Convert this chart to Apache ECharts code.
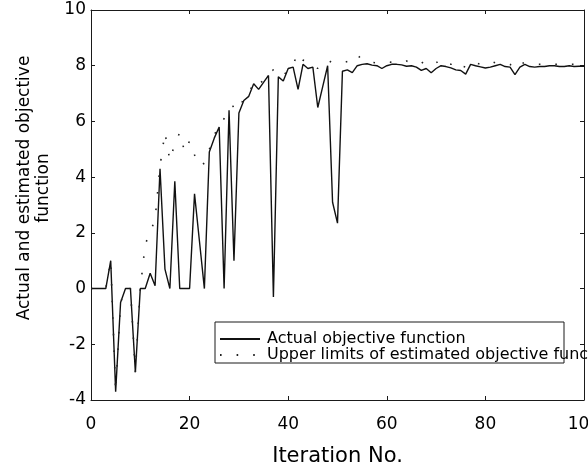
<!DOCTYPE html>
<html>
<head>
<meta charset="utf-8">
<script src="https://cdn.jsdelivr.net/npm/echarts@6/dist/echarts.min.js"></script>
<style>
  html, body { margin: 0; padding: 0; background: #fff; }
  #chart { width: 588px; height: 472px; }
</style>
</head>
<body>
<div id="chart"></div>
<script>
// iteration numbers 0..100 (x axis positions)
const iterations = Array.from({ length: 101 }, (_, i) => i)

// actual objective function
const actualValues = [
  0, 0, 0, 0, 1.0, -3.7, -0.5, 0, 0, -3.0,
  0, 0, 0.55, 0.1, 4.3, 0.7, 0, 3.85, 0, 0,
  0, 3.4, 1.7, 0, 4.9, 5.4, 5.8, 0, 6.4, 1.0,
  6.3, 6.75, 6.9, 7.35, 7.15, 7.4, 7.65, -0.3, 7.6, 7.45,
  7.9, 7.95, 7.15, 8.05, 7.9, 7.95, 6.5, 7.25, 8.0, 3.1,
  2.35, 7.8, 7.85, 7.75, 8.0, 8.05, 8.07, 8.02, 8.0, 7.9,
  8.0, 8.05, 8.05, 8.03, 7.98, 8.0, 7.95, 7.83, 7.9, 7.75,
  7.9, 8.0, 7.97, 7.92, 7.85, 7.83, 7.7, 8.05, 8.0, 7.96,
  7.92, 7.95, 8.0, 8.05, 7.97, 7.95, 7.68, 7.95, 8.05, 7.97,
  7.95, 7.97, 7.97, 8.0, 8.0, 7.97, 7.97, 8.0, 7.97, 7.98,
  7.98
]

// upper limits of estimated objective function (dotted)
const upperValues = [
  0, 0, 0, 0, 1.0, -3.7, -0.5, 0, 0, -3.0,
  0, 1.6, 2.0, 2.5, 4.4, 5.6, 4.6, 5.2, 5.6, 4.9,
  5.3, 4.8, 4.4, 4.5, 5.0, 5.5, 5.9, 6.1, 6.5, 6.55,
  6.4, 6.85, 7.0, 7.4, 7.3, 7.5, 7.75, 7.85, 7.75, 7.6,
  7.9, 8.05, 8.45, 8.2, 8.15, 8.05, 7.9, 8.1, 8.2, 8.1,
  8.1, 8.1, 8.15, 8.2, 8.4, 8.2, 8.17, 8.12, 8.1, 8.1,
  8.14, 8.12, 8.12, 8.1, 8.17, 8.08, 8.1, 8.14, 8.0, 8.0,
  8.1, 8.24, 8.1, 8.05, 8.17, 8.0, 7.95, 8.13, 8.1, 8.05,
  8.1, 8.17, 8.1, 8.1, 8.1, 8.05, 7.9, 8.1, 8.1, 8.05,
  8.05, 8.05, 8.05, 8.08, 8.05, 8.05, 8.05, 8.05, 8.05, 8.05,
  8.05
]

const seriesNames = ['Actual objective function', 'Upper limits of estimated objective function']

const font = 'DejaVu Sans'
const ink = '#1a1a1a'

const chart = echarts.init(document.getElementById('chart'))

const boxAxis = {
  axisLine: { show: true, onZero: false, lineStyle: { color: ink, width: 1 } },
  axisTick: { show: true, inside: true, length: 4, lineStyle: { color: ink } },
  splitLine: { show: false }
}

chart.setOption({
  animation: false,
  backgroundColor: '#fff',
  grid: { left: 91, right: 4, top: 10, bottom: 72, outerBoundsMode: 'none', containLabel: false },
  graphic: [{
    type: 'rect',
    shape: { x: 215, y: 322, width: 349, height: 41 },
    style: { fill: '#fff', stroke: ink, lineWidth: 1 },
    z: 3
  }],
  legend: {
    orient: 'vertical',
    left: 219,
    top: 331,
    padding: 0,
    itemWidth: 40,
    itemHeight: 14,
    itemGap: 0,
    itemStyle: { opacity: 0 },
    textStyle: { fontFamily: font, fontSize: 16, color: '#000', lineHeight: 15, padding: [0, 0, 0, 2] },
    data: seriesNames
  },
  xAxis: [
    Object.assign({
      type: 'value', min: 0, max: 100, interval: 20, position: 'bottom',
      name: 'Iteration No.', nameLocation: 'middle', nameGap: 46,
      nameTextStyle: { fontFamily: font, fontSize: 21, color: '#000' },
      axisLabel: { fontFamily: font, fontSize: 17, color: '#000', margin: 16 }
    }, boxAxis),
    Object.assign({
      type: 'value', min: 0, max: 100, interval: 20, position: 'top',
      axisLabel: { show: false }
    }, boxAxis)
  ],
  yAxis: [
    Object.assign({
      type: 'value', min: -4, max: 10, interval: 2, position: 'left',
      name: 'Actual and estimated objective\nfunction', nameLocation: 'middle', nameGap: 34,
      nameTextStyle: { fontFamily: font, fontSize: 17, color: '#000', lineHeight: 19, padding: [0, 0, 0, 34] },
      axisLabel: { fontFamily: font, fontSize: 17, color: '#000', margin: 5 }
    }, boxAxis),
    Object.assign({
      type: 'value', min: -4, max: 10, interval: 2, position: 'right',
      axisLabel: { show: false }
    }, boxAxis)
  ],
  series: [
    {
      name: seriesNames[0],
      type: 'line',
      symbol: 'none',
      data: iterations.map((it, i) => [it, actualValues[i]]),
      lineStyle: { color: '#111', width: 1.4 },
      itemStyle: { color: '#111' },
      z: 2
    },
    {
      name: seriesNames[1],
      type: 'line',
      symbol: 'none',
      data: iterations.map((it, i) => [it, upperValues[i]]),
      lineStyle: { color: '#222', width: 1.6, type: [1.6, 15] },
      itemStyle: { color: '#222' },
      z: 3
    }
  ]
})
</script>
</body>
</html>
